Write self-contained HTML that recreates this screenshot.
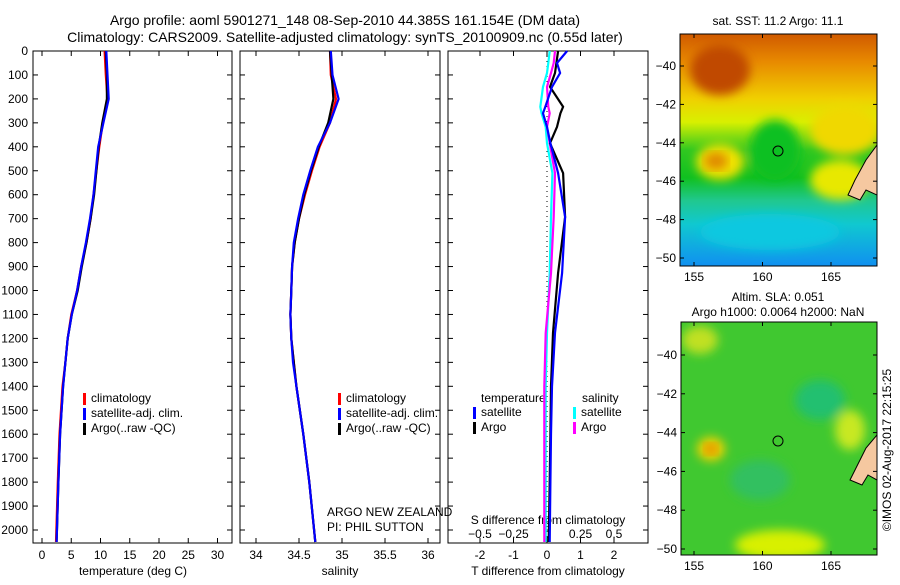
<!DOCTYPE html>
<html><head><meta charset="utf-8"><style>
body{margin:0;background:#fff;width:900px;height:580px;overflow:hidden}
svg{font-family:"Liberation Sans",sans-serif;font-size:12px}
</style></head><body>
<svg id="fig" width="900" height="580">
<defs>
<linearGradient id="sstg" x1="0" y1="0" x2="0" y2="1">
<stop offset="0" stop-color="#d05a00"/><stop offset="0.12" stop-color="#e88a00"/>
<stop offset="0.28" stop-color="#f0d000"/><stop offset="0.38" stop-color="#d8f000"/>
<stop offset="0.5" stop-color="#30c820"/><stop offset="0.62" stop-color="#10c020"/>
<stop offset="0.72" stop-color="#20c890"/><stop offset="0.82" stop-color="#10c8d0"/>
<stop offset="1" stop-color="#1090f0"/></linearGradient>
<filter id="bl"><feGaussianBlur stdDeviation="5"/></filter>
<clipPath id="c1"><rect x="680" y="34" width="197" height="232"/></clipPath>
<clipPath id="c2"><rect x="681" y="322" width="196" height="233"/></clipPath>
</defs>
<g>
<text x="345" y="25" text-anchor="middle" font-size="14">Argo profile: aoml 5901271_148 08-Sep-2010 44.385S 161.154E (DM data)</text>
<text x="345" y="42" text-anchor="middle" font-size="14">Climatology: CARS2009. Satellite-adjusted climatology: synTS_20100909.nc (0.55d later)</text>
</g>
<g id="p1"></g>
<g id="p2"></g>
<g id="p3"></g>

<g>
<text x="778" y="25" text-anchor="middle">sat. SST: 11.2 Argo: 11.1</text>
<g clip-path="url(#c1)">
<rect x="680" y="34" width="197" height="232" fill="url(#sstg)"/>
<g filter="url(#bl)">
<ellipse cx="720" cy="70" rx="30" ry="25" fill="#c04800"/>
<ellipse cx="845" cy="130" rx="35" ry="25" fill="#f0d800"/>
<ellipse cx="840" cy="180" rx="30" ry="20" fill="#e8e800"/>
<ellipse cx="720" cy="162" rx="24" ry="18" fill="#f0e000"/>
<ellipse cx="775" cy="150" rx="25" ry="30" fill="#10c020"/>
<ellipse cx="770" cy="232" rx="70" ry="18" fill="#10c8e0"/>
</g>
<ellipse cx="716" cy="161" rx="12" ry="9" fill="#e08a00" filter="url(#bl)"/>
<polygon points="877,145 866,160 855,180 848,195 860,200 866,190 877,195" fill="#f5c8a0" stroke="#000" stroke-width="1"/>
</g>
<rect x="680" y="34" width="197" height="232" fill="none" stroke="#000"/>
<circle cx="778" cy="151" r="5" fill="none" stroke="#000"/>
</g>
<g>
<text x="778" y="301" text-anchor="middle">Altim. SLA: 0.051</text>
<text x="778" y="316" text-anchor="middle">Argo h1000: 0.0064 h2000: NaN</text>
<g clip-path="url(#c2)">
<rect x="681" y="322" width="196" height="233" fill="#40c830"/>
<g filter="url(#bl)">
<ellipse cx="711" cy="449" rx="14" ry="12" fill="#f0d000"/>
<ellipse cx="780" cy="545" rx="45" ry="15" fill="#d8f000"/>
<ellipse cx="700" cy="340" rx="18" ry="14" fill="#c0e020"/>
<ellipse cx="760" cy="480" rx="30" ry="20" fill="#30c060"/>
<ellipse cx="850" cy="430" rx="15" ry="20" fill="#c8e820"/>
<ellipse cx="820" cy="400" rx="25" ry="20" fill="#20c070"/>
</g>
<ellipse cx="711" cy="449" rx="7" ry="6" fill="#e09000" filter="url(#bl)"/>
<polygon points="877,435 866,448 856,468 850,480 862,485 868,475 877,480" fill="#f5c8a0" stroke="#000" stroke-width="1"/>
</g>
<rect x="681" y="322" width="196" height="233" fill="none" stroke="#000"/>
<circle cx="778" cy="441" r="5" fill="none" stroke="#000"/>
<text transform="translate(891,450) rotate(-90)" text-anchor="middle">©IMOS 02-Aug-2017 22:15:25</text>
</g>
<g id="maxes"></g>
</svg>
<script>
// ---- data ----
var depths = [0,100,200,300,400,500,600,700,800,900,1000,1100,1200,1300,1400,1600,1800,2050];
var tempClim = [10.7,10.9,11.2,10.4,9.8,9.3,8.8,8.3,7.6,6.7,6.0,5.0,4.4,4.0,3.5,3.0,2.7,2.4];
var tempSat  = [11.0,11.2,11.4,10.5,9.6,9.2,8.8,8.2,7.5,6.7,6.0,5.1,4.4,4.0,3.6,3.1,2.8,2.5];
var tempArgo = [10.9,11.1,11.1,10.3,9.7,9.3,8.9,8.3,7.6,6.8,6.1,5.1,4.4,4.0,3.6,3.1,2.8,2.5];
var salClim  = [34.86,34.87,34.93,34.86,34.74,34.65,34.57,34.50,34.45,34.42,34.41,34.40,34.41,34.44,34.47,34.55,34.62,34.69];
var salSat   = [34.87,34.89,34.96,34.86,34.72,34.63,34.55,34.49,34.44,34.42,34.41,34.40,34.41,34.43,34.47,34.55,34.62,34.69];
var salArgo  = [34.86,34.88,34.90,34.84,34.73,34.64,34.56,34.50,34.45,34.42,34.41,34.40,34.41,34.44,34.47,34.55,34.62,34.69];
var diffDepths = [0,50,92,150,233,260,317,385,510,693,927,1177,1400,1600,1800,2050];
var dTsat  = [0.6,0.3,0.39,0.15,-0.05,-0.12,0.0,0.1,0.33,0.54,0.45,0.24,0.15,0.12,0.1,0.08];
var dTargo = [0.33,0.28,0.24,0.09,0.48,0.4,0.3,0.09,0.48,0.54,0.33,0.18,0.12,0.1,0.08,0.05];
var dSsat  = [0.02,0.01,0.0,-0.03,-0.05,-0.04,-0.01,0.0,0.04,0.03,0.02,0.0,-0.01,-0.01,-0.01,-0.01];
var dSargo = [0.06,0.05,0.03,0.0,0.01,0.02,0.0,0.02,0.06,0.05,0.03,-0.01,-0.02,-0.02,-0.02,-0.02];
var depthTicks = [0,100,200,300,400,500,600,700,800,900,1000,1100,1200,1300,1400,1500,1600,1700,1800,1900,2000];
var tempTicks = [0,5,10,15,20,25,30];
var salTicks = [34,34.5,35,35.5,36];
var tdTicks = [-2,-1,0,1,2];
var sdTicks = [-0.5,-0.25,0,0.25,0.5];
var latTicks = [-40,-42,-44,-46,-48,-50];
var lonTicks = [155,160,165];

var NS="http://www.w3.org/2000/svg";
function mk(tag,at,par,txt){var e=document.createElementNS(NS,tag);for(var k in at)e.setAttribute(k,at[k]);if(txt!=null)e.textContent=txt;par.appendChild(e);return e;}
var TOP=51,BOT=543;
function yD(d){return TOP+d*0.2395;}
function xT(t){return 42+t*5.85;}
function xS(s){return 256+(s-34)*86;}
function xTD(t){return 547+t*33.5;}
function xSD(s){return 547+s*134;}
function box(g,x0,x1){
  var r=mk('rect',{x:x0,y:TOP,width:x1-x0,height:BOT-TOP,fill:'none',stroke:'#000'},g);
  
  
}
function line(g,xs,ds,fx,col,name,w){
  var p='';for(var i=0;i<xs.length;i++)p+=(i?'L':'M')+fx(xs[i]).toFixed(1)+','+yD(ds[i]).toFixed(1);
  var e=mk('path',{d:p,fill:'none',stroke:col,'stroke-width':w||2.2},g);
  
  
}
function xticks(g,ticks,fx,y,fmt){
  ticks.forEach(function(t){var x=fx(t);
    mk('line',{x1:x,x2:x,y1:BOT,y2:BOT-5,stroke:'#000'},g);
    mk('line',{x1:x,x2:x,y1:TOP,y2:TOP+5,stroke:'#000'},g);
    var e=mk('text',{x:x,y:y,'text-anchor':'middle'},g,fmt?fmt(t):String(t));
    
    });
}
function legend(g,x,y,items){
  items.forEach(function(it,i){
    mk('rect',{x:x,y:y+i*15-9,width:3,height:12,fill:it[1]},g);
    var e=mk('text',{x:x+8,y:y+i*15},g,it[0]);
    
    
  });
}
// panel 1
var g1=document.getElementById('p1');
box(g1,33,232);
depthTicks.forEach(function(d){var y=yD(d);
  mk('line',{x1:33,x2:38,y1:y,y2:y,stroke:'#000'},g1);mk('line',{x1:227,x2:232,y1:y,y2:y,stroke:'#000'},g1);
  var e=mk('text',{x:28,y:y+4,'text-anchor':'end'},g1,String(d));
  
  });
xticks(g1,tempTicks,xT,559);
mk('text',{x:133,y:575,'text-anchor':'middle'},g1,'temperature (deg C)');
line(g1,tempClim,depths,xT,'#ff0000','temp-climatology-line');
line(g1,tempArgo,depths,xT,'#000000','temp-argo-line');
line(g1,tempSat,depths,xT,'#0000ff','temp-satellite-line');
legend(g1,83,402,[['climatology','#f00'],['satellite-adj. clim.','#00f'],['Argo(..raw -QC)','#000']]);
// panel 2
var g2=document.getElementById('p2');
box(g2,240,440);
depthTicks.forEach(function(d){var y=yD(d);
  mk('line',{x1:240,x2:245,y1:y,y2:y,stroke:'#000'},g2);mk('line',{x1:435,x2:440,y1:y,y2:y,stroke:'#000'},g2);});
xticks(g2,salTicks,xS,559);
mk('text',{x:340,y:575,'text-anchor':'middle'},g2,'salinity');
line(g2,salClim,depths,xS,'#ff0000','sal-climatology-line');
line(g2,salArgo,depths,xS,'#000000','sal-argo-line');
line(g2,salSat,depths,xS,'#0000ff','sal-satellite-line');
legend(g2,338,402,[['climatology','#f00'],['satellite-adj. clim.','#00f'],['Argo(..raw -QC)','#000']]);
mk('text',{x:327,y:516},g2,'ARGO NEW ZEALAND');
mk('text',{x:327,y:531},g2,'PI: PHIL SUTTON');
// panel 3
var g3=document.getElementById('p3');
box(g3,448,648);
depthTicks.forEach(function(d){var y=yD(d);
  mk('line',{x1:448,x2:453,y1:y,y2:y,stroke:'#000'},g3);mk('line',{x1:643,x2:648,y1:y,y2:y,stroke:'#000'},g3);});
mk('line',{x1:xTD(0),x2:xTD(0),y1:TOP,y2:BOT,stroke:'#000','stroke-dasharray':'1,4'},g3);
xticks(g3,tdTicks,xTD,559);
sdTicks.forEach(function(s){var e=mk('text',{x:xSD(s),y:538,'text-anchor':'middle'},g3,String(s).replace('-','\u2212'));
  
  });
mk('text',{x:548,y:524,'text-anchor':'middle'},g3,'S difference from climatology');
mk('text',{x:548,y:575,'text-anchor':'middle'},g3,'T difference from climatology');
mk('text',{x:481,y:402},g3,'temperature');
mk('text',{x:582,y:402},g3,'salinity');
legend(g3,473,416,[['satellite','#00f'],['Argo','#000']]);
legend(g3,573,416,[['satellite','#0ff'],['Argo','#f0f']]);
line(g3,dSsat,diffDepths,xSD,'#00ffff','sdiff-satellite-line');
line(g3,dSargo,diffDepths,xSD,'#ff00ff','sdiff-argo-line');
line(g3,dTargo,diffDepths,xTD,'#000000','tdiff-argo-line');
line(g3,dTsat,diffDepths,xTD,'#0000ff','tdiff-satellite-line');
// map axes
var ma=document.getElementById('maxes');
function mapAxes(y0,y1,latY0,pxLat,x0,x1){
  latTicks.forEach(function(l){var y=latY0+(-40-l)*pxLat;
    mk('line',{x1:x0,x2:x0+4,y1:y,y2:y,stroke:'#000'},ma);mk('line',{x1:x1-4,x2:x1,y1:y,y2:y,stroke:'#000'},ma);
    var e=mk('text',{x:x0-4,y:y+4,'text-anchor':'end'},ma,String(l).replace('-','\u2212'));
    
    });
  lonTicks.forEach(function(l){var x=694+(l-155)*13.7;
    mk('line',{x1:x,x2:x,y1:y0,y2:y0+4,stroke:'#000'},ma);mk('line',{x1:x,x2:x,y1:y1,y2:y1-4,stroke:'#000'},ma);
    var e=mk('text',{x:x,y:y1+15,'text-anchor':'middle'},ma,String(l));
    
    });
}
mapAxes(34,266,66,19.2,680,877);
mapAxes(322,555,355,19.4,681,877);
</script>
</body></html>
